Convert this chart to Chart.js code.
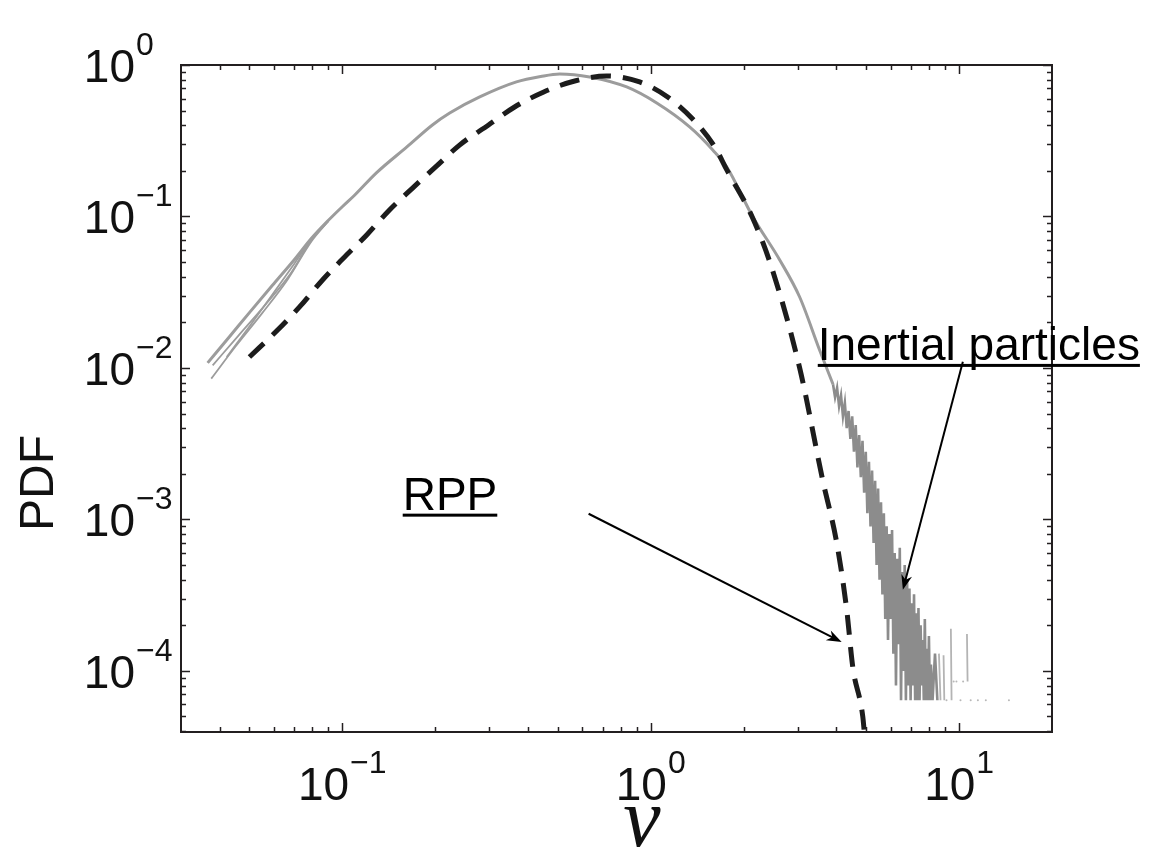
<!DOCTYPE html>
<html>
<head>
<meta charset="utf-8">
<script src="https://cdn.jsdelivr.net/npm/chart.js@4.4.0/dist/chart.umd.min.js"></script>
<style>
  body { margin: 0; background: #fff; }
  canvas { display: block; }
</style>
</head>
<body>
<canvas id="pdfChart" width="1161" height="849"></canvas>
<script>
// RPP model curve (dashed)
var rppV = [0.050, 0.0617, 0.0727, 0.0863, 0.101, 0.120, 0.142, 0.169, 0.202, 0.240, 0.298, 0.362, 0.450, 0.567, 0.720, 0.921, 1.135, 1.368, 1.613, 1.765, 2.13, 2.45, 3.04, 3.61, 4.01, 4.32, 4.52, 4.87, 4.95];
var rppPdf = [0.0118, 0.0178, 0.0253, 0.0381, 0.0532, 0.0755, 0.110, 0.154, 0.215, 0.296, 0.402, 0.528, 0.664, 0.784, 0.846, 0.773, 0.615, 0.440, 0.288, 0.203, 0.100, 0.048, 0.0100, 0.00182, 0.00070, 0.000253, 0.000106, 0.000050, 0.000035];

// inertial particles, main body
var inertialV = [0.0366, 0.043, 0.050, 0.060, 0.070, 0.0796, 0.090, 0.100, 0.1096, 0.129, 0.162, 0.196, 0.223, 0.279, 0.367, 0.440, 0.507, 0.634, 0.836, 1.046, 1.337, 1.589, 1.765, 2.14, 2.62, 3.04, 3.53, 3.90];
var inertialPdf = [0.0108, 0.0160, 0.0232, 0.0360, 0.0520, 0.0720, 0.094, 0.116, 0.138, 0.194, 0.288, 0.402, 0.482, 0.615, 0.773, 0.840, 0.873, 0.834, 0.716, 0.561, 0.390, 0.275, 0.212, 0.100, 0.0516, 0.0294, 0.0131, 0.0078];

// other runs, only differ at the low end
var run2V = [0.0376, 0.045, 0.055, 0.066, 0.0796, 0.090];
var run2Pdf = [0.0085, 0.0138, 0.0230, 0.0375, 0.0690, 0.093];
var run3V = [0.0380, 0.046, 0.056, 0.068, 0.0796, 0.090];
var run3Pdf = [0.0104, 0.0163, 0.0258, 0.0420, 0.0705, 0.093];
var run4V = [0.0422, 0.050, 0.060, 0.070, 0.0796, 0.090];
var run4Pdf = [0.0118, 0.0188, 0.0315, 0.0490, 0.0712, 0.094];

// noisy tail
var tailV = [3.90, 3.96, 4.02, 4.08, 4.14, 4.20, 4.26, 4.32, 4.38, 4.44, 4.50, 4.56, 4.62, 4.68, 4.74, 4.80, 4.86, 4.92, 4.98, 5.04,
  5.10, 5.16, 5.22, 5.28, 5.34, 5.40, 5.46, 5.52, 5.58, 5.64, 5.70, 5.76, 5.82, 5.88, 5.94, 6.00, 6.06, 6.12, 6.18, 6.24,
  6.30, 6.36, 6.42, 6.48, 6.54, 6.60, 6.66, 6.72, 6.78, 6.84, 6.90, 6.96, 7.02, 7.08, 7.14, 7.20, 7.26, 7.32, 7.38, 7.44,
  7.50, 7.56, 7.62, 7.68, 7.74, 7.80, 7.86, 7.92, 7.98, 8.04, 8.10, 8.20, 8.35, 8.50];
var tailPdf = [0.0078, 0.0064, 0.0074, 0.0056, 0.0066, 0.0048, 0.0059, 0.0040, 0.0052, 0.0034, 0.0048, 0.0028, 0.0042, 0.0022, 0.0036, 0.0019, 0.0033, 0.0015, 0.0028, 0.0011,
  0.0024, 0.0009, 0.0021, 0.0007, 0.0018, 0.0005, 0.0016, 0.00040, 0.0013, 0.00032, 0.0011, 0.00022, 0.00090, 0.00016, 0.0008, 0.00022, 0.00085, 0.00013, 0.00060, 0.00008,
  0.00055, 0.00015, 0.00065, 0.000064, 0.00045, 0.00010, 0.00050, 0.000064, 0.00040, 0.000080, 0.00035, 0.000064, 0.00028, 0.000080, 0.00032, 0.000064, 0.00024, 0.000064, 0.00026, 0.000064,
  0.00020, 0.000080, 0.00016, 0.000064, 0.00022, 0.000064, 0.00014, 0.000064, 0.00017, 0.000064, 0.000110, 0.000064, 0.00013, 0.000064];

// sparse counts far out (null = gap)
var sparseV = [8.60, 8.70, 8.75, 8.90, 8.95, 9.00, 9.40, 9.45, 9.50, 10.6, 10.65, 10.7];
var sparsePdf = [0.00013, 0.000064, null, 0.000127, 0.000064, null, 0.00019, 0.000064, null, 0.000175, 0.000085, null];
var dotV = [9.1, 9.8, 10.1, 10.9, 11.5, 12.2, 14.5, 9.6, 10.3];
var dotPdf = [0.000064, 0.000085, 0.000064, 0.000064, 0.000064, 0.000064, 0.000064, 0.000085, 0.000085];

var xTickExps = [-1, 0, 1];
var yTickExps = [0, -1, -2, -3, -4];

var sansFont = '"Liberation Sans", Arial, Helvetica, sans-serif';

function pts(xs, ys) {
    return xs.map(function (x, i) { return { x: x, y: ys[i] }; });
}

function line(ctx, x1, y1, x2, y2) {
    ctx.beginPath();
    ctx.moveTo(x1, y1);
    ctx.lineTo(x2, y2);
    ctx.stroke();
}

function arrow(ctx, x1, y1, x2, y2) {
    var ang = Math.atan2(y2 - y1, x2 - x1);
    var L = 15, W = 5.5;
    var c = Math.cos(ang), s = Math.sin(ang);
    ctx.lineWidth = 2;
    line(ctx, x1, y1, x2 - c * 8, y2 - s * 8);
    ctx.beginPath();
    ctx.moveTo(x2, y2);
    ctx.lineTo(x2 - L * c + W * s, y2 - L * s - W * c);
    ctx.lineTo(x2 - L * 0.7 * c, y2 - L * 0.7 * s);
    ctx.lineTo(x2 - L * c - W * s, y2 - L * s + W * c);
    ctx.closePath();
    ctx.fill();
}

function powLabel(ctx, exp, x, baseline, mode) {
    var base = '10';
    var sup = exp < 0 ? '\u2212' + (-exp) : String(exp);
    ctx.font = '46px ' + sansFont;
    var wb = ctx.measureText(base).width;
    ctx.font = '32px ' + sansFont;
    var ws = ctx.measureText(sup).width;
    var left = mode == 'center' ? x - (wb + ws + 1) / 2 : x - wb;
    ctx.textAlign = 'left';
    ctx.textBaseline = 'alphabetic';
    ctx.font = '46px ' + sansFont;
    ctx.fillText(base, left, baseline);
    ctx.font = '32px ' + sansFont;
    ctx.fillText(sup, left + wb + 1, baseline - 27);
}

function underlined(ctx, text, x, baseline) {
    ctx.font = '46px ' + sansFont;
    ctx.textAlign = 'left';
    ctx.textBaseline = 'alphabetic';
    ctx.fillText(text, x, baseline);
    var w = ctx.measureText(text).width;
    ctx.fillRect(x, baseline + 4, w, 3);
}

var frameAndLabels = {
    id: 'frameAndLabels',
    afterDraw: function (chart) {
        var ctx = chart.ctx;
        var xs = chart.scales.x, ys = chart.scales.y;
        var a = chart.chartArea;
        ctx.save();
        ctx.strokeStyle = '#231f20';
        ctx.fillStyle = '#111';
        ctx.lineWidth = 2;
        ctx.strokeRect(a.left, a.top, a.right - a.left, a.bottom - a.top);

        // inward ticks, all four sides
        ctx.lineWidth = 1.5;
        for (var k = -2; k <= 1; k++) {
            for (var m = 1; m <= 9; m++) {
                var v = m * Math.pow(10, k);
                if (v <= xs.min || v >= xs.max) continue;
                var px = Math.round(xs.getPixelForValue(v)) + 0.5;
                var len = m == 1 ? 9 : 5;
                line(ctx, px, a.bottom, px, a.bottom - len);
                line(ctx, px, a.top, px, a.top + len);
            }
        }
        for (k = -5; k <= 0; k++) {
            for (m = 1; m <= 9; m++) {
                v = m * Math.pow(10, k);
                if (v <= ys.min || v > ys.max) continue;
                var py = Math.round(ys.getPixelForValue(v)) + 0.5;
                len = m == 1 ? 9 : 5;
                line(ctx, a.left, py, a.left + len, py);
                line(ctx, a.right, py, a.right - len, py);
            }
        }

        // tick labels
        xTickExps.forEach(function (e) {
            powLabel(ctx, e, xs.getPixelForValue(Math.pow(10, e)), a.bottom + 68, 'center');
        });
        yTickExps.forEach(function (e) {
            powLabel(ctx, e, a.left - 46, ys.getPixelForValue(Math.pow(10, e)) + 17, 'right');
        });

        // axis titles
        ctx.save();
        ctx.translate(40, 483);
        ctx.rotate(-Math.PI / 2);
        ctx.font = '48px ' + sansFont;
        ctx.textAlign = 'center';
        ctx.textBaseline = 'middle';
        ctx.fillText('PDF', 0, 0);
        ctx.restore();

        ctx.font = 'italic 84px "Liberation Serif", "Times New Roman", serif';
        ctx.textAlign = 'center';
        ctx.textBaseline = 'alphabetic';
        ctx.fillText('\u03bd', 642, 846);

        // annotations
        ctx.strokeStyle = '#000';
        ctx.fillStyle = '#000';
        underlined(ctx, 'RPP', xs.getPixelForValue(0.157), ys.getPixelForValue(0.00116));
        underlined(ctx, 'Inertial particles', xs.getPixelForValue(3.48), ys.getPixelForValue(0.0113));
        arrow(ctx, xs.getPixelForValue(0.629), ys.getPixelForValue(0.00109),
            xs.getPixelForValue(4.16), ys.getPixelForValue(0.000155));
        arrow(ctx, xs.getPixelForValue(10.28), ys.getPixelForValue(0.011),
            xs.getPixelForValue(6.57), ys.getPixelForValue(0.000343));
        ctx.restore();
    }
};

var grayLine = '#9c9c9c';

var ctx = document.getElementById('pdfChart');
var pdfChart = new Chart(ctx, {
    type: 'scatter',
    data: {
        datasets: [
            {
                label: 'RPP',
                data: pts(rppV, rppPdf),
                showLine: true,
                borderColor: '#1c1c1c',
                borderWidth: 5,
                borderDash: [20, 12],
                cubicInterpolationMode: 'monotone',
                pointRadius: 0
            },
            {
                label: 'Inertial particles',
                data: pts(inertialV, inertialPdf),
                showLine: true,
                borderColor: grayLine,
                borderWidth: 3,
                cubicInterpolationMode: 'monotone',
                pointRadius: 0
            },
            { data: pts(run2V, run2Pdf), showLine: true, borderColor: grayLine, borderWidth: 1.8, cubicInterpolationMode: 'monotone', pointRadius: 0 },
            { data: pts(run3V, run3Pdf), showLine: true, borderColor: grayLine, borderWidth: 1.8, cubicInterpolationMode: 'monotone', pointRadius: 0 },
            { data: pts(run4V, run4Pdf), showLine: true, borderColor: grayLine, borderWidth: 1.8, cubicInterpolationMode: 'monotone', pointRadius: 0 },
            {
                data: pts(tailV, tailPdf),
                showLine: true,
                borderColor: '#8c8c8c',
                borderWidth: 2.6,
                pointRadius: 0
            },
            {
                data: pts(sparseV, sparsePdf),
                showLine: true,
                spanGaps: false,
                borderColor: '#b4b4b4',
                borderWidth: 1.8,
                pointRadius: 0
            },
            {
                data: pts(dotV, dotPdf),
                showLine: false,
                pointRadius: 1,
                pointBorderWidth: 0,
                pointBackgroundColor: '#b8b8b8'
            }
        ]
    },
    options: {
        responsive: false,
        animation: false,
        layout: { padding: { left: 181, top: 65, right: 109, bottom: 117 } },
        plugins: { legend: { display: false }, tooltip: { enabled: false } },
        scales: {
            x: { type: 'logarithmic', min: 0.03, max: 20, display: false },
            y: { type: 'logarithmic', min: 3.95e-5, max: 1, display: false }
        }
    },
    plugins: [frameAndLabels]
});
</script>
</body>
</html>
